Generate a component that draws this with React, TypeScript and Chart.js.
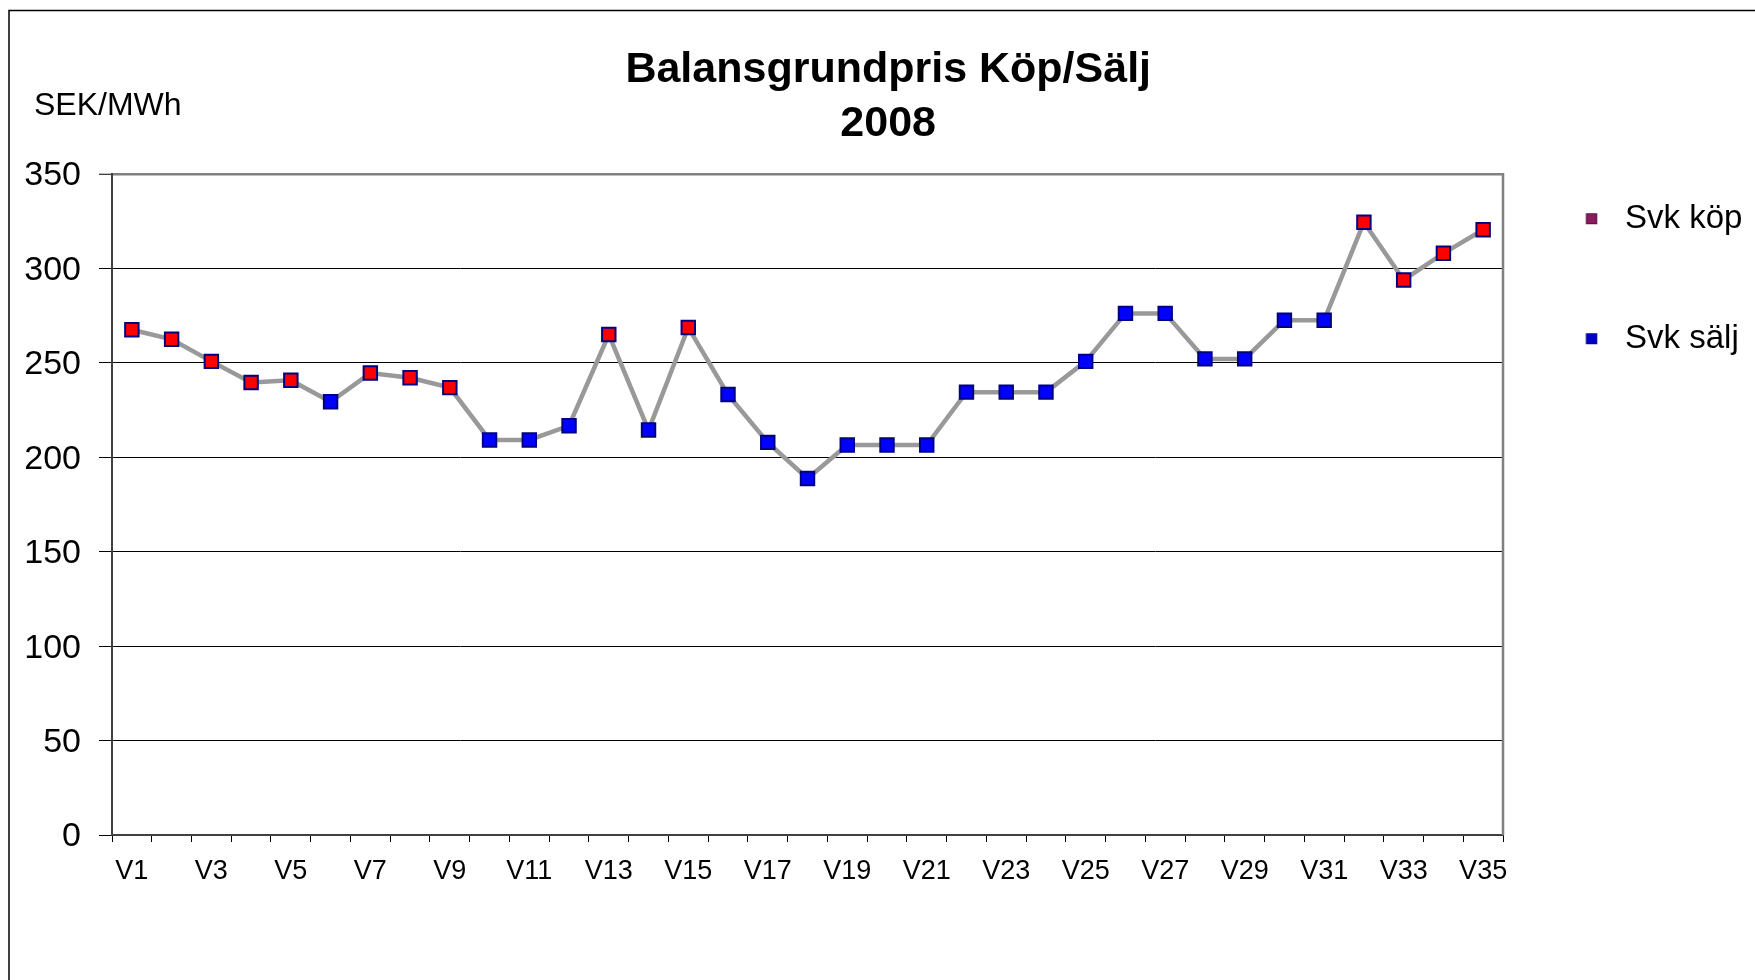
import React, { useEffect, useRef } from 'react';
import { Chart, registerables } from 'chart.js';

Chart.register(...registerables);

const WEEKS = [
  'V1', 'V2', 'V3', 'V4', 'V5', 'V6', 'V7', 'V8', 'V9', 'V10',
  'V11', 'V12', 'V13', 'V14', 'V15', 'V16', 'V17', 'V18', 'V19', 'V20',
  'V21', 'V22', 'V23', 'V24', 'V25', 'V26', 'V27', 'V28', 'V29', 'V30',
  'V31', 'V32', 'V33', 'V34', 'V35',
];

// Svk köp (red markers)
const KOP: (number | null)[] = [
  267.5, 262.5, 250.8, 239.6, 240.8, null, 244.6, 242.1, 236.9, null,
  null, null, 265.0, null, 268.7, null, null, null, null, null,
  null, null, null, null, null, null, null, null, null, null,
  null, 324.5, 293.9, 308.0, 320.5,
];

// Svk sälj (blue markers)
const SALJ: (number | null)[] = [
  null, null, null, null, null, 229.4, null, null, null, 209.2,
  209.2, 216.7, null, 214.4, null, 233.2, 207.9, 188.8, 206.5, 206.5,
  206.5, 234.5, 234.5, 234.5, 250.8, 276.2, 276.2, 252.1, 252.1, 272.6,
  272.6, null, null, null, null,
];

const SERIES_NAMES = ['Svk köp', 'Svk sälj'];
const TITLE_LINES = ['Balansgrundpris Köp/Sälj', '2008'];
const UNIT_LABEL = 'SEK/MWh';
const Y_MIN = 0;
const Y_MAX = 350;
const Y_STEP = 50;

const FONT = '"Liberation Sans", Arial, Helvetica, sans-serif';

function makeMarker(fill: string, stroke: string): HTMLCanvasElement {
  const c = document.createElement('canvas');
  c.width = 40;
  c.height = 13;
  const g = c.getContext('2d')!;
  g.fillStyle = fill;
  g.fillRect(6.75, 1, 11, 11);
  g.strokeStyle = stroke;
  g.lineWidth = 1;
  g.strokeRect(7.25, 1.5, 10, 10);
  return c;
}

const decorPlugin = {
  id: 'decor',
  beforeDatasetsDraw(chart: any) {
    const { ctx, chartArea: a } = chart;
    ctx.save();
    ctx.strokeStyle = '#808080';
    ctx.lineWidth = 2.5;
    ctx.beginPath();
    ctx.moveTo(a.right, a.top - 1);
    ctx.lineTo(a.right, a.bottom);
    ctx.stroke();
    ctx.restore();
  },
  afterDraw(chart: any) {
    const { ctx } = chart;
    ctx.save();
    ctx.strokeStyle = '#000';
    ctx.lineWidth = 1.5;
    ctx.beginPath();
    ctx.moveTo(9, 2000);
    ctx.lineTo(9, 10.5);
    ctx.lineTo(3000, 10.5);
    ctx.stroke();
    ctx.fillStyle = '#000';
    ctx.font = `32px ${FONT}`;
    ctx.textAlign = 'left';
    ctx.textBaseline = 'middle';
    ctx.fillText(UNIT_LABEL, 34, 106);
    ctx.restore();
  },
};

export default function App() {
  const ref = useRef<HTMLCanvasElement | null>(null);

  useEffect(() => {
    document.body.style.margin = '0';
    const canvas = ref.current;
    if (!canvas) return;

    const markers = [makeMarker('#8C1A5C', '#5A1048'), makeMarker('#0000C8', '#000090')];
    const PRICE = WEEKS.map((_, i) => (KOP[i] ?? SALJ[i]) as number);

    const chart = new Chart(canvas, {
      type: 'line',
      data: {
        labels: WEEKS,
        datasets: [
          {
            label: SERIES_NAMES[0],
            data: KOP,
            showLine: false,
            pointStyle: 'rect',
            pointRadius: 9.5,
            pointHoverRadius: 9.5,
            pointBorderWidth: 2,
            backgroundColor: '#FF0000',
            borderColor: '#000080',
          },
          {
            label: SERIES_NAMES[1],
            data: SALJ,
            showLine: false,
            pointStyle: 'rect',
            pointRadius: 9.5,
            pointHoverRadius: 9.5,
            pointBorderWidth: 2,
            backgroundColor: '#0000FF',
            borderColor: '#000080',
          },
          {
            label: 'line',
            data: PRICE,
            borderColor: '#999999',
            borderWidth: 4.5,
            pointRadius: 0,
            pointHoverRadius: 0,
            tension: 0,
            fill: false,
          },
        ],
      },
      options: {
        animation: false,
        responsive: false,
        events: [],
        layout: { padding: { left: 24, right: 2.6, top: 0, bottom: 0 } },
        plugins: {
          tooltip: { enabled: false },
          title: {
            display: true,
            text: TITLE_LINES,
            color: '#000',
            font: { family: FONT, size: 43, weight: 'bold', lineHeight: 54 / 43 },
            padding: { top: 43, bottom: 23 },
          },
          legend: {
            display: true,
            position: 'right',
            align: 'start',
            title: {
              display: true,
              text: ' ',
              font: { size: 10 },
              padding: { top: 103.2, bottom: 0 },
            },
            labels: {
              usePointStyle: true,
              pointStyleWidth: 18.5,
              padding: 87,
              color: '#000',
              font: { family: FONT, size: 33 },
              generateLabels: (ch: any) => {
                const base = (Chart.defaults.plugins.legend.labels as any).generateLabels(ch);
                return base
                  .filter((it: any) => it.datasetIndex < 2)
                  .map((it: any) => ({ ...it, pointStyle: markers[it.datasetIndex] }));
              },
            },
          },
        },
        scales: {
          x: {
            type: 'category',
            offset: true,
            grid: {
              offset: true,
              drawOnChartArea: false,
              tickLength: 7,
              tickColor: '#000',
              tickWidth: 1,
            },
            border: { color: '#404040', width: 2 },
            ticks: {
              autoSkip: false,
              maxRotation: 0,
              minRotation: 0,
              padding: 13,
              color: '#000',
              font: { family: FONT, size: 27 },
              callback: (_v: any, i: number) => (i % 2 === 0 ? WEEKS[i] : ''),
            },
            afterFit: (s: any) => {
              s.height = 145;
            },
          },
          y: {
            min: Y_MIN,
            max: Y_MAX,
            ticks: {
              stepSize: Y_STEP,
              padding: 18,
              labelOffset: 2,
              color: '#000',
              font: { family: FONT, size: 34 },
            },
            grid: {
              color: (c: any) => (c.tick && c.tick.value === Y_MAX ? '#808080' : '#000000'),
              lineWidth: (c: any) => (c.tick && c.tick.value === Y_MAX ? 2.5 : 1),
              tickLength: 13,
              tickColor: '#000',
              tickWidth: 1,
            },
            border: { color: '#404040', width: 2 },
            afterFit: (s: any) => {
              s.width = 88;
              s._computeLabelArea = () => undefined;
            },
          },
        },
      },
      plugins: [decorPlugin],
    });

    return () => chart.destroy();
  }, []);

  return (
    <div style={{ width: 1755, height: 980 }}>
      <canvas ref={ref} width={1755} height={980} style={{ display: 'block' }} />
    </div>
  );
}
